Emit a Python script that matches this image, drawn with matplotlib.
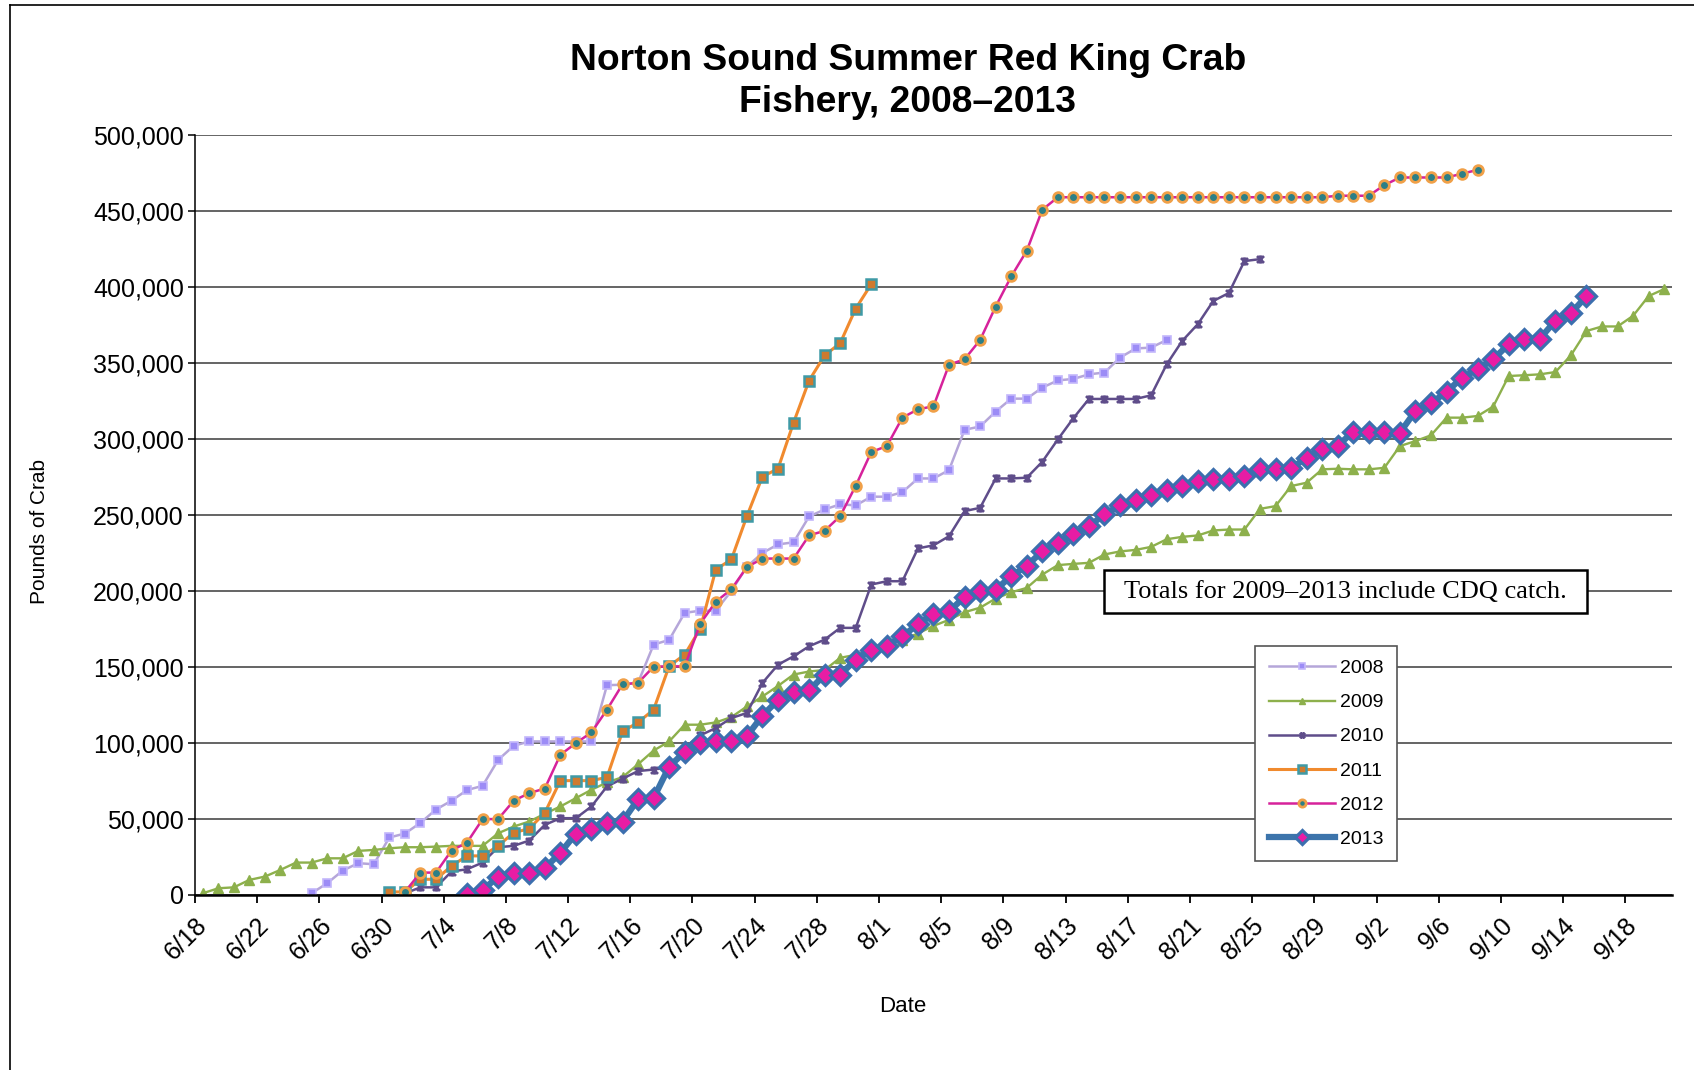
import matplotlib
matplotlib.use("Agg")
import matplotlib.pyplot as plt
import numpy as np
import pandas as pd
from matplotlib.lines import Line2D
from matplotlib.patches import Rectangle
from matplotlib.path import Path
from matplotlib.ticker import FuncFormatter, MultipleLocator
from matplotlib.transforms import ScaledTranslation

plt.rcParams["font.family"] = ["Liberation Sans", "DejaVu Sans"]

# Cumulative landings (pounds) by day, one list per season, starting on START_DATES
YEARS = ["2008", "2009", "2010", "2011", "2012", "2013"]
START_DATES = ["06-25", "06-18", "07-01", "06-30", "07-01", "07-05"]

CATCH_2008 = [
    1100, 7700, 16000, 20900, 20200, 37800,
    40400, 47400, 56200, 62000, 69000, 71800, 88900, 98100, 101000, 101000,
    101000, 101000, 101000, 138000, 138300, 139700, 164700, 167800, 185600, 187000,
    187000, 200000, 216000, 225000, 230600, 232000, 249000, 253600, 257000, 256300,
    262000,
    262000, 265000, 274000, 274000, 279500, 306000, 308200, 318000, 326500, 326500,
    333800, 338500, 339500, 342500, 343700, 353500, 359500, 360100, 365100,
]
CATCH_2009 = [
    1100, 4400, 5000, 9900, 12100, 16500, 21300, 21300, 24100, 24100, 29000, 29600, 30700,
    31400, 31400, 31800, 32300, 32300, 32300, 40600, 45000, 48300, 53400,
    58200, 63700, 69200, 74000, 77500, 86000, 95000, 101000, 112000, 112000,
    113500, 117000, 124000, 130600, 137500, 145000, 147000, 148000, 156000, 158000, 161000,
    164000, 168000, 172000, 177000, 181000, 186000, 189000, 195000, 199100, 202000,
    210800, 217000, 217800, 218500, 224000, 226000, 227000, 229000, 234000, 235600,
    236500, 239800, 240400, 240400, 254000, 255800, 269000, 271200, 280000, 280400, 280000,
    280000, 281000, 295300, 298600, 302400, 314000, 314000, 315100, 321300, 341400,
    341900, 342500, 344000, 355000, 371000, 374000, 374000, 381000, 394000, 398600,
]
CATCH_2010 = [
    1000, 5000, 5000, 15400, 16900, 21300, 31400, 32300, 35800, 46100,
    50500, 50500, 58200, 71400, 76500, 81500, 82500, 84000, 97000, 105000,
    109800, 116400, 119700, 139500, 151500, 157000, 163600, 168000, 175700, 175700, 204200,
    206400, 206400, 228000, 230000, 236000, 252500, 254700, 274000, 274000, 274500,
    285000, 299700, 313700, 326300, 326300, 326300, 326300, 328700, 349100, 364500,
    375500, 390800, 396000, 417000, 418300,
]
CATCH_2011 = [
    2000, 2000, 10300, 10300, 19100, 25700, 25700, 32300, 41000, 43600, 54000,
    75200, 75200, 75200, 77400, 107600, 113500, 121900, 150600, 158100, 175200,
    214100, 220700, 249200, 275200, 280400, 310700, 338400, 355000, 363000, 385800, 401800,
]
CATCH_2012 = [
    2000, 14700, 14700, 29200, 34500, 49900, 49900, 62000, 67000, 70000,
    92200, 99900, 106900, 121900, 138600, 139500, 150200, 150400, 150400, 178500,
    192900, 201100, 215700, 221300, 221300, 221300, 236500, 239600, 249200, 269200, 291400,
    295300, 314000, 319500, 321500, 348800, 352400, 365100, 387100, 406900, 423800, 450800,
    459000, 459000, 459000, 459000, 459000, 459000, 459000, 459000, 459000,
    459000, 459000, 459000, 459000, 459000, 459000, 459000, 459000, 459000,
    460000, 460000, 460000, 467000, 472000, 472000, 472000, 472000, 474500, 477000,
]
CATCH_2013 = [
    500, 3100, 12100, 14700, 14700, 17600, 27700, 40400, 43300, 47200,
    48300, 63000, 63700, 84500, 94000, 99700, 101500, 101500, 104500, 118000,
    128200, 133300, 134600, 144900, 144900, 154800, 161400,
    164000, 170200, 178000, 185000, 186500, 196100, 199800, 200900, 209700, 216500,
    226100, 231700, 237200, 242600, 250300, 256300, 260000, 263200, 266300, 269200,
    272300, 273400, 273400, 275800, 280000, 280000, 280700, 287600, 293200, 295500, 304800,
    304500, 304500, 304100, 318400, 323500, 330900, 340400, 345800, 352400, 362300,
    365600, 366000, 377700, 382700, 393900,
]
CATCH = [CATCH_2008, CATCH_2009, CATCH_2010, CATCH_2011, CATCH_2012, CATCH_2013]

# Excel-style asterisk: an X with a vertical bar through it
ASTERISK = Path(
    [(-1, -1), (1, 1), (-1, 1), (1, -1), (0, -1.2), (0, 1.2)],
    [Path.MOVETO, Path.LINETO, Path.MOVETO, Path.LINETO, Path.MOVETO, Path.LINETO],
)

STYLES = [
    dict(color="#b5a6d9", lw=1.8, marker="s", ms=5.5, mfc="#9c8cf6", mec="#c4b8fb", mew=1.2),
    dict(color="#8db04c", lw=1.7, marker="^", ms=6.5, mfc="#8db04c", mec="#8db04c", mew=1.0),
    dict(color="#5f4d8a", lw=1.8, marker=ASTERISK, ms=6, mfc="none", mec="#5f4d8a", mew=2.0),
    dict(color="#f08a2e", lw=2.2, marker="s", ms=7, mfc="#cf7a2f", mec="#3f9aa6", mew=1.8),
    dict(color="#d6229b", lw=1.8, marker="o", ms=7, mfc="#2c7f86", mec="#f0a048", mew=2.0),
    dict(color="#3c74ab", lw=4.5, marker="D", ms=10, mfc="#e81ca4", mec="#3c6fae", mew=2.3),
]

TICK_DATES = pd.date_range("2013-06-18", "2013-09-18", freq="4D")

fig = plt.figure(figsize=(16.94, 10.70), dpi=100)
ax = fig.add_axes([0.1151, 0.1636, 0.8719, 0.7103])

for year, start, values, style in zip(YEARS, START_DATES, CATCH, STYLES):
    # each day's total sits mid-day, between the date ticks
    days = pd.date_range(f"2013-{start}", periods=len(values), freq="D") + pd.Timedelta(hours=12)
    ax.plot(days, values, label=year, solid_joinstyle="round", **style)

ax.set_xlim(pd.Timestamp("2013-06-18"), pd.Timestamp("2013-09-21"))
ax.set_ylim(0, 500000)

ax.yaxis.set_major_locator(MultipleLocator(50000))
ax.yaxis.set_major_formatter(FuncFormatter(lambda v, _: f"{v:,.0f}"))
ax.yaxis.grid(True, color="#3a3a3a", lw=1.1)
ax.set_axisbelow(True)

ax.set_xticks(TICK_DATES)
ax.set_xticklabels([f"{d.month}/{d.day}" for d in TICK_DATES],
                   rotation=45, ha="right", va="top", rotation_mode="anchor")
shift = ScaledTranslation(0.08, 0, fig.dpi_scale_trans)
for lbl in ax.get_xticklabels():
    lbl.set_transform(lbl.get_transform() + shift)

for side in ("top", "right"):
    ax.spines[side].set_visible(False)
ax.spines["left"].set_linewidth(1.1)
ax.spines["bottom"].set_linewidth(1.8)
ax.tick_params(axis="y", length=5, width=1.1, pad=3, labelsize=18)
ax.tick_params(axis="x", length=6, width=1.3, pad=7, labelsize=18)

leg = ax.legend(loc="upper left", bbox_to_anchor=(0.7177, 0.3276), borderaxespad=0,
                fontsize=14, frameon=True, fancybox=False, edgecolor="#555555",
                framealpha=1, handlelength=3.4, labelspacing=0.85, markerscale=0.75,
                borderpad=0.7, handletextpad=0.25)
leg.get_frame().set_linewidth(1.2)

# note box over the 200,000 gridline
ax.add_patch(Rectangle((0.6154, 0.3711), 0.3270, 0.0566, transform=ax.transAxes,
                       facecolor="white", edgecolor="black", lw=1.8, zorder=5))
ax.text(0.779, 0.3990, "Totals for 2009\u20132013 include CDQ catch.", transform=ax.transAxes,
        ha="center", va="center", fontsize=19, family="Liberation Serif", zorder=6)

fig.text(0.536, 0.9346, "Norton Sound Summer Red King Crab", ha="center", va="baseline",
         fontsize=26.8, fontweight="bold")
fig.text(0.536, 0.8953, "Fishery, 2008\u20132013", ha="center", va="baseline",
         fontsize=26.8, fontweight="bold")
fig.text(0.0236, 0.5037, "Pounds of Crab", rotation=90, ha="center", va="center", fontsize=15)
fig.text(0.533, 0.0598, "Date", ha="center", va="center", fontsize=16)

# chart-area border (left and top edges)
fig.add_artist(Line2D([0.0059, 0.0059], [0.0, 0.9953], transform=fig.transFigure,
                      color="black", lw=1.2))
fig.add_artist(Line2D([0.0059, 1.0], [0.9953, 0.9953], transform=fig.transFigure,
                      color="black", lw=1.2))

fig.savefig("out.png", dpi=100, facecolor="white")
